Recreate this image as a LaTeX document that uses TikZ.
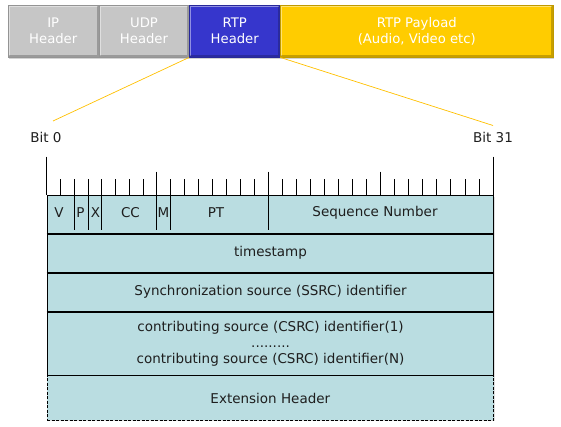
\documentclass[tikz,border=0pt]{standalone}
\usepackage{fontspec}
\setmainfont{DejaVu Sans}
\usetikzlibrary{shadows}
\definecolor{gry}{HTML}{C6C6C6}
\definecolor{blu}{HTML}{3636CC}
\definecolor{ylw}{HTML}{FFCC00}
\definecolor{rowfill}{HTML}{BADDE1}
\definecolor{txtdark}{HTML}{1E1E1E}
\definecolor{lnylw}{HTML}{FFC000}
\begin{document}
\begin{tikzpicture}[x=1pt,y=-1pt,
  font=\fontsize{13.5}{16}\selectfont,
  bevel/.style={path picture={
    \draw[white,opacity=0.45,line width=1.6pt]
      ([xshift=1pt,yshift=1pt]path picture bounding box.south west) |-
      ([xshift=-1pt,yshift=-1pt]path picture bounding box.north east);
    \draw[black,opacity=0.22,line width=1.6pt]
      ([xshift=1pt,yshift=1pt]path picture bounding box.south west) -|
      ([xshift=-1pt,yshift=-1pt]path picture bounding box.north east);}},
  pkt/.style={draw=#1!75!black, line width=0.5pt, fill=#1, text=white,
    minimum height=52pt, inner sep=0pt, align=center, anchor=north west,
    font=\fontsize{13.2}{16}\selectfont,
    bevel, drop shadow={shadow xshift=1pt,shadow yshift=-1.5pt,opacity=0.35}},
  row/.style={draw=black, line width=1.1pt, fill=rowfill, anchor=north west,
    minimum width=446.6pt, inner sep=0pt, text=txtdark, align=center,
    drop shadow={shadow xshift=1pt,shadow yshift=-1pt,opacity=0.25}},
  sep/.style={draw=black, line width=1.8pt},
  fld/.style={text=txtdark, inner sep=0pt},
  bitlbl/.style={text=txtdark, inner sep=0pt},
  zoomline/.style={draw=lnylw, line width=0.7pt},
  tick/.style={draw=black, line width=0.8pt}]
\useasboundingbox (0,0) rectangle (561,427);

% packet bar
\node[pkt=gry, minimum width=91pt] (ip) at (7.5,5) {IP\\Header};
\node[pkt=gry, minimum width=90.5pt] (udp) at (98.5,5) {UDP\\Header};
\node[pkt=blu, minimum width=91pt] (rtp) at (189,5) {RTP\\Header};
\node[pkt=ylw, minimum width=273pt] (pay) at (280,5) {RTP Payload\\(Audio, Video etc)};

% bit labels
\node[bitlbl] (b0) at (46,137) {Bit 0};
\node[bitlbl] (b31) at (493,137) {Bit 31};
\coordinate (z0) at (53,121);
\coordinate (z31) at (493,125.5);
\draw[zoomline] (rtp.south west) -- (z0);
\draw[zoomline] (rtp.south east) -- (z31);

% rows
\node[row, minimum height=37.7pt] (r1) at (46.7,195) {};
\node[row, minimum height=39pt] (ts) at (46.7,232.7) {timestamp};
\node[row, minimum height=39pt] (ssrc) at (46.7,271.7) {Synchronization source (SSRC) identifier};
\node[row, minimum height=64.6pt] (csrc) at (46.7,310.7)
  {contributing source (CSRC) identifier(1)\\.........\\contributing source (CSRC) identifier(N)};
\node[row, minimum height=44.7pt, line width=0.7pt, dash pattern=on 3pt off 1.5pt] (ext) at (46.7,375.3) {Extension Header};

% thicker separators between stacked rows
\draw[sep] (r1.south west) -- (r1.south east);
\draw[sep] (ts.south west) -- (ts.south east);
\draw[sep] (ssrc.south west) -- (ssrc.south east);

% ruler
\draw[tick] (46.7,156.7) -- (46.7,195);
\draw[tick] (493.3,156.7) -- (493.3,195);
\foreach \s/\e [count=\i] in {46.7/156.7, 156.7/268.3, 268.3/380, 380/493.3}{
  \foreach \k in {1,...,7}{
    \draw[tick] ({\s+\k*(\e-\s)/8},179.3) -- ({\s+\k*(\e-\s)/8},195);
  }
  \ifnum\i>1 \draw[tick] (\s,171.7) -- (\s,195); \fi
}

% field dividers
\foreach \xx in {74.2,88.2,101.7,156.7,170.6,268.3}{
  \draw[tick] (\xx,195) -- (\xx,230);
}
\node[fld] (fv) at (59,212.5) {V};
\node[fld] (fp) at (80.5,212.5) {P};
\node[fld] (fx) at (95.5,212.5) {X};
\node[fld] (fcc) at (130.5,212.5) {CC};
\node[fld] (fm) at (163.5,212.5) {M};
\node[fld] (fpt) at (216,212.5) {PT};
\node[fld] (fseq) at (375,212.5) {Sequence Number};
\end{tikzpicture}
\end{document}
